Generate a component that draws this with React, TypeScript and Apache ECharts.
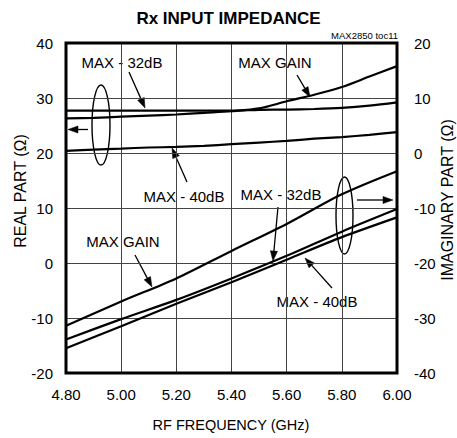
import React, { useEffect, useRef } from "react";
import * as echarts from "echarts";

// Frequency axis (GHz)
const freqFine = [4.8, 4.9, 5.0, 5.1, 5.2, 5.3, 5.4, 5.5, 5.6, 5.7, 5.8, 5.9, 6.0];
const freqCoarse = [4.8, 5.0, 5.2, 5.4, 5.6, 5.8, 6.0];

// Real part (Ω), left axis
const realMaxGain = [26.3, 26.4, 26.6, 26.8, 27.0, 27.3, 27.6, 28.1, 29.4, 30.6, 32.0, 33.9, 35.8];
const realMax32 = [27.7, 27.7, 27.7, 27.7, 27.7, 27.7, 27.7, 27.85, 27.9, 28.0, 28.2, 28.6, 29.2];
const realMax40 = [20.4, 20.6, 20.8, 21.0, 21.1, 21.3, 21.6, 21.9, 22.2, 22.6, 22.9, 23.3, 23.8];

// Imaginary part (Ω), right axis
const imagMaxGain = [-31.4, -27.0, -22.8, -17.8, -12.9, -7.5, -3.3];
const imagMax32 = [-33.9, -30.2, -26.7, -22.8, -18.7, -14.3, -10.2];
const imagMax40 = [-35.5, -31.5, -27.4, -23.5, -19.4, -15.3, -11.7];

const leftTicks = { min: -20, max: 40, interval: 10 };
const rightTicks = { min: -40, max: 20, interval: 10 };

const FONT = "'Liberation Sans', Arial, Helvetica, sans-serif";

function pairs(xs: number[], ys: number[]) {
  return xs.map((x, i) => [x, ys[i]]);
}

function arrow(x1: number, y1: number, x2: number, y2: number) {
  const dx = x2 - x1;
  const dy = y2 - y1;
  const len = Math.sqrt(dx * dx + dy * dy);
  const ux = dx / len;
  const uy = dy / len;
  const hl = 10;
  const hw = 3.6;
  const bx = x2 - ux * hl;
  const by = y2 - uy * hl;
  return [
    {
      type: "line",
      shape: { x1, y1, x2: bx, y2: by },
      style: { stroke: "#000", lineWidth: 1.3 },
      silent: true,
    },
    {
      type: "polygon",
      shape: {
        points: [
          [x2, y2],
          [bx - uy * hw, by + ux * hw],
          [bx + uy * hw, by - ux * hw],
        ],
      },
      style: { fill: "#000", stroke: "#000", lineWidth: 0.5 },
      silent: true,
    },
  ];
}

function label(text: string, x: number, y: number, size = 15) {
  return {
    type: "text",
    x,
    y,
    silent: true,
    style: {
      text,
      fill: "#000",
      font: `${size}px ${FONT}`,
      align: "center",
      verticalAlign: "middle",
    },
  };
}

export default function App() {
  const ref = useRef<HTMLDivElement>(null);

  useEffect(() => {
    document.body.style.margin = "0";
    if (!ref.current) return;
    const chart = echarts.init(ref.current, undefined, { renderer: "svg" });

    const lineStyle = { color: "#000", width: 2.2 };
    const mk = (name: string, data: number[][], yAxisIndex: number) => ({
      name,
      type: "line",
      data,
      yAxisIndex,
      showSymbol: false,
      symbol: "none",
      smooth: 0.3,
      lineStyle,
      silent: true,
    });

    const graphic: any[] = [
      label("MAX - 32dB", 122, 62),
      label("MAX GAIN", 275, 62),
      label("MAX - 40dB", 184, 196),
      label("MAX - 32dB", 281, 194),
      label("MAX GAIN", 123, 241),
      label("MAX - 40dB", 317, 301),
      ...arrow(129, 72, 145, 108),
      ...arrow(297, 75, 310, 97),
      ...arrow(187, 182, 172, 148),
      ...arrow(278, 207, 273, 261),
      ...arrow(135, 255, 152, 287),
      ...arrow(332, 288, 305, 258),
      ...arrow(88, 129.5, 68, 129.5),
      ...arrow(357, 200, 393, 200),
      {
        type: "ellipse",
        shape: { cx: 101, cy: 125, rx: 9, ry: 40 },
        style: { fill: "none", stroke: "#000", lineWidth: 1.4 },
        silent: true,
      },
      {
        type: "ellipse",
        shape: { cx: 344.5, cy: 215.5, rx: 8.5, ry: 38.5 },
        style: { fill: "none", stroke: "#000", lineWidth: 1.4 },
        silent: true,
      },
      {
        type: "text",
        x: 398,
        y: 35,
        silent: true,
        style: {
          text: "MAX2850 toc11",
          fill: "#000",
          font: `9.5px ${FONT}`,
          align: "right",
          verticalAlign: "middle",
        },
      },
      {
        type: "text",
        x: 20,
        y: 191,
        rotation: Math.PI / 2,
        silent: true,
        style: {
          text: "REAL PART (Ω)",
          fill: "#000",
          font: `16px ${FONT}`,
          align: "center",
          verticalAlign: "middle",
        },
      },
      {
        type: "text",
        x: 447,
        y: 200,
        rotation: Math.PI / 2,
        silent: true,
        style: {
          text: "IMAGINARY PART (Ω)",
          fill: "#000",
          font: `16px ${FONT}`,
          align: "center",
          verticalAlign: "middle",
        },
      },
      {
        type: "text",
        x: 231,
        y: 425,
        silent: true,
        style: {
          text: "RF FREQUENCY (GHz)",
          fill: "#000",
          font: `14.5px ${FONT}`,
          align: "center",
          verticalAlign: "middle",
        },
      },
    ];

    chart.setOption({
      animation: false,
      backgroundColor: "#fff",
      title: {
        text: "Rx INPUT IMPEDANCE",
        left: "center",
        top: 5,
        textStyle: { fontFamily: FONT, fontSize: 17, fontWeight: "bold", color: "#000" },
      },
      grid: {
        left: 66,
        right: 60,
        top: 43,
        bottom: 65,
        show: true,
        borderColor: "#000",
        borderWidth: 3,
        backgroundColor: "transparent",
        z: 10,
      },
      xAxis: {
        type: "value",
        min: 4.8,
        max: 6.0,
        interval: 0.2,
        axisLine: { show: false },
        axisTick: { show: false },
        axisLabel: {
          color: "#000",
          fontSize: 15,
          fontFamily: FONT,
          margin: 14,
          formatter: (v: number) => v.toFixed(2),
        },
        splitLine: { show: true, lineStyle: { color: "#444", width: 1 } },
      },
      yAxis: [
        {
          type: "value",
          position: "left",
          ...leftTicks,
          axisLine: { show: false },
          axisTick: { show: false },
          axisLabel: { color: "#000", fontSize: 15, fontFamily: FONT, margin: 13 },
          splitLine: { show: true, lineStyle: { color: "#444", width: 1 } },
        },
        {
          type: "value",
          position: "right",
          ...rightTicks,
          axisLine: { show: false },
          axisTick: { show: false },
          axisLabel: { color: "#000", fontSize: 15, fontFamily: FONT, margin: 17 },
          splitLine: { show: false },
        },
      ],
      series: [
        mk("Real MAX GAIN", pairs(freqFine, realMaxGain), 0),
        mk("Real MAX - 32dB", pairs(freqFine, realMax32), 0),
        mk("Real MAX - 40dB", pairs(freqFine, realMax40), 0),
        mk("Imag MAX GAIN", pairs(freqCoarse, imagMaxGain), 1),
        mk("Imag MAX - 32dB", pairs(freqCoarse, imagMax32), 1),
        mk("Imag MAX - 40dB", pairs(freqCoarse, imagMax40), 1),
      ],
      graphic,
    });

    return () => chart.dispose();
  }, []);

  return <div ref={ref} style={{ width: 457, height: 438 }} />;
}
